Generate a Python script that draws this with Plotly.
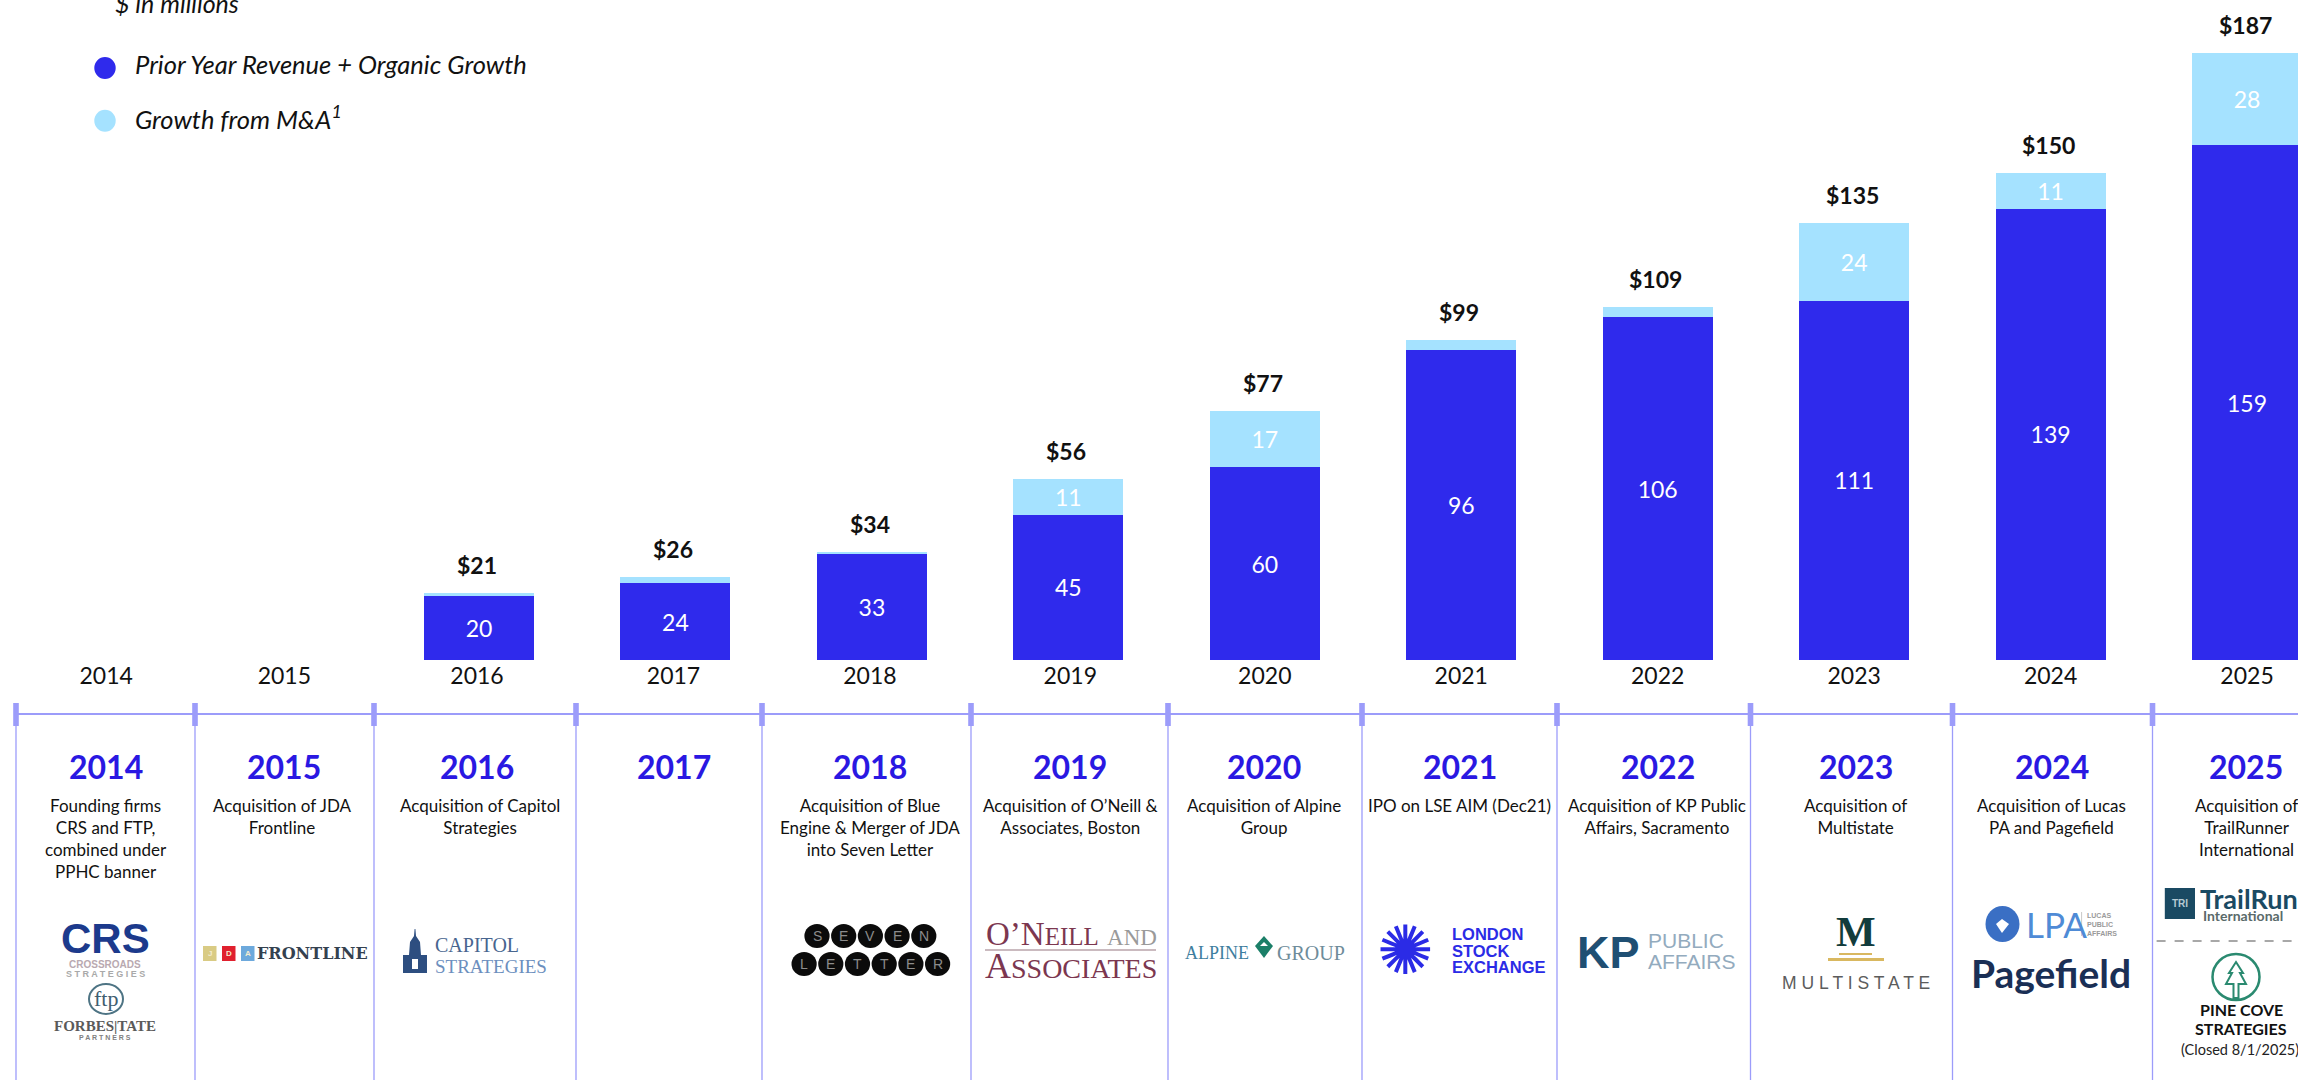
import plotly.graph_objects as go

W, H = 2298, 1080
BAR_YEARS = [2016, 2017, 2018, 2019, 2020, 2021, 2022, 2023, 2024, 2025]
BASE_VALUES = [19.7, 23.6, 32.6, 44.7, 59.4, 95.6, 105.6, 110.6, 139, 158.6]
MA_VALUES = [1, 2, 0.7, 11, 17.2, 3, 3.1, 24, 11, 28.4]
TOTALS = [21, 26, 34, 56, 77, 99, 109, 135, 150, 187]
BASE_LABELS = ["20", "24", "33", "45", "60", "96", "106", "111", "139", "159"]
MA_LABELS = ["", "", "", "11", "17", "", "", "24", "11", "28"]
TICK_YEARS = [2014, 2015] + BAR_YEARS
TICK_LABELS = [str(y) for y in TICK_YEARS]
TICK_NUDGE = {2014: 0.102, 2015: 0.009, 2016: -0.01, 2017: -0.01, 2018: -0.01, 2019: 0.01}
DESCRIPTIONS = [
    "Founding firms<br>CRS and FTP,<br>combined under<br>PPHC banner",
    "Acquisition of JDA<br>Frontline",
    "Acquisition of Capitol<br>Strategies",
    "",
    "Acquisition of Blue<br>Engine &amp; Merger of JDA<br>into Seven Letter",
    "Acquisition of O\u2019Neill &amp;<br>Associates, Boston",
    "Acquisition of Alpine<br>Group",
    "IPO on LSE AIM (Dec21)",
    "Acquisition of KP Public<br>Affairs, Sacramento",
    "Acquisition of<br>Multistate",
    "Acquisition of Lucas<br>PA and Pagefield",
    "Acquisition of<br>TrailRunner<br>International",
]
LEGEND_NAMES = ["Prior Year Revenue + Organic Growth", "Growth from M&amp;A<sup>1</sup>"]

BLUE, LIGHT, RULE, HEAD = "#2F2AEC", "#A5E2FF", "#9C9CFA", "#2A18E2"
SANS = "Lato"
SERIF = "Liberation Serif"
PX_PER_YEAR = 196.45
X0 = 2016 - 479 / PX_PER_YEAR
BASE_PX = 660
Y_MAX = BASE_PX / 3.246

def px(x):
    return x / W

def py(y):
    return 1 - y / H

annos, shapes = [], []

def txt(x, y, t, size=17, color="#111", font=SANS, anchor="center", bold=False, italic=False):
    annos.append(dict(
        xref="paper", yref="paper", x=px(x), y=py(y), text=t, showarrow=False,
        xanchor=anchor, yanchor="middle", align=anchor,
        font=dict(size=size, color=color, family=font,
                  weight="bold" if bold else "normal", style="italic" if italic else "normal"),
        borderpad=0, borderwidth=0))

def rect(x0, y0, x1, y1, fill):
    shapes.append(dict(type="rect", xref="paper", yref="paper", x0=px(x0), x1=px(x1),
                       y0=py(y0), y1=py(y1), fillcolor=fill, line=dict(width=0), layer="above"))

def ell(cx, cy, rx, ry, fill="rgba(0,0,0,0)", lw=0, lc="rgba(0,0,0,0)"):
    shapes.append(dict(type="circle", xref="paper", yref="paper", x0=px(cx - rx), x1=px(cx + rx),
                       y0=py(cy + ry), y1=py(cy - ry), fillcolor=fill,
                       line=dict(width=lw, color=lc), layer="above"))

def seg(x0, y0, x1, y1, color, lw=1.5, dash="solid"):
    shapes.append(dict(type="line", xref="paper", yref="paper", x0=px(x0), x1=px(x1),
                       y0=py(y0), y1=py(y1), line=dict(color=color, width=lw, dash=dash), layer="above"))

def poly(pts, fill, lw=0, lc="rgba(0,0,0,0)"):
    d = "M " + " L ".join(f"{px(a):.5f} {py(b):.5f}" for a, b in pts) + " Z"
    shapes.append(dict(type="path", xref="paper", yref="paper", path=d, fillcolor=fill,
                       line=dict(width=lw, color=lc), layer="above"))

fig = go.Figure()
fig.add_bar(x=BAR_YEARS, y=BASE_VALUES, width=0.56, marker=dict(color=BLUE, line=dict(width=0)),
            text=BASE_LABELS, textposition="inside", insidetextanchor="middle", textangle=0,
            insidetextfont=dict(color="white", size=23, family=SANS), name="Prior Year Revenue + Organic Growth",
            constraintext="none", showlegend=False, hoverinfo="skip")
fig.add_bar(x=BAR_YEARS, y=MA_VALUES, width=0.56, marker=dict(color=LIGHT, line=dict(width=0)),
            text=MA_LABELS, textposition="inside", insidetextanchor="middle", textangle=0,
            insidetextfont=dict(color="white", size=23, family=SANS), name="Growth from M&A",
            constraintext="none", showlegend=False, hoverinfo="skip")

# Totals above the bars
for yr, base, ma, tot in zip(BAR_YEARS, BASE_VALUES, MA_VALUES, TOTALS):
    annos.append(dict(xref="x", yref="y", x=yr, y=base + ma, text=f"${tot}", showarrow=False,
                      yanchor="middle", yshift=28, xshift=-2,
                      font=dict(size=23, family=SANS, color="#111", weight="bold")))

# Legend and unit note
txt(115, 3, "$ in millions", size=25, italic=True, anchor="left")
ell(105, 68, 10.7, 11, fill=BLUE)
ell(105, 120.7, 10.7, 11, fill=LIGHT)
txt(135, 64, LEGEND_NAMES[0], size=25.5, italic=True, anchor="left")
txt(135, 117, LEGEND_NAMES[1], size=25.5, italic=True, anchor="left")

# Timeline rules
RULE_X = [16, 195, 374, 576, 762, 971, 1168, 1362, 1557, 1750.5, 1952.5, 2152.5]
seg(16, 714, W, 714, RULE, 1.8)
for x in RULE_X:
    seg(x, 726, x, H, RULE, 1.3)
    rect(x - 2.8, 703, x + 2.8, 726, RULE)

# Timeline headings and descriptions
HEAD_X = [105.6, 284, 476.5, 673.5, 870.4, 1070, 1264, 1460, 1657.6, 1855.6, 2051.5, 2246]
DESC_X = [105.6, 282, 479.6, 673.5, 870.4, 1070, 1264, 1459, 1657, 1855.6, 2051, 2246]
for yr, hx, dx, d in zip(TICK_LABELS, HEAD_X, DESC_X, DESCRIPTIONS):
    txt(hx, 766, yr, size=32, color=HEAD, bold=True)
    if d:
        annos.append(dict(xref="paper", yref="paper", x=px(dx), y=py(794), text=d, showarrow=False,
                          xanchor="center", yanchor="top", align="center", borderpad=0,
                          font=dict(size=17, color="#111", family=SANS)))

# --- Logos (drawn as text and simple shapes) ---
# CRS / Forbes Tate
txt(105, 938, "CRS", 42, "#1C3A8C", "Liberation Sans", bold=True)
txt(105, 964, "CROSSROADS", 10, "#B9A9B0", "Liberation Sans", bold=True)
txt(105, 974, "S T R A T E G I E S", 9, "#A9A9A9", "Liberation Sans", bold=True)
ell(106, 999, 17, 15, lw=2, lc="#4E7484")
txt(106, 998, "ftp", 22, "#3F5E70", SERIF)
txt(105, 1026, "FORBES|TATE", 15, "#5A5A5A", SERIF, bold=True)
txt(105, 1037, "P A R T N E R S", 7, "#808080", "Liberation Sans", bold=True)

# JDA Frontline
for x0, c, ch in [(203, "#D9CB84", "J"), (222, "#E0202E", "D"), (241, "#6DA9DC", "A")]:
    rect(x0, 946, x0 + 13.5, 961, c)
    txt(x0 + 6.7, 953.5, ch, 8, "#F3EBD0", "Liberation Sans", bold=True)
txt(312, 953, "FRONTLINE", 16, "#34414F", "DejaVu Serif", bold=True)

# Capitol Strategies
poly([(403, 973), (403, 955), (409, 955), (410, 942), (414, 936), (414.6, 929), (415.4, 929), (416, 936),
      (420, 942), (421, 955), (427, 955), (427, 973)], "#2D4E80")
rect(412, 959, 418, 969, "#FFFFFF")
txt(435, 945, "CAPITOL", 20, "#48658F", SERIF, anchor="left")
txt(435, 966, "STRATEGIES", 19, "#6C8FBE", SERIF, anchor="left")

# Seven Letter
for row, x0, cy in [("SEVEN", 817.0, 936), ("LETTER", 804.1, 964)]:
    for i, ch in enumerate(row):
        cx = x0 + i * 26.7
        ell(cx, cy, 12.6, 12, fill="#0B0B0B")
        txt(cx, cy, ch, 14, "#8C8C8C", "Liberation Sans")

# O'Neill and Associates
txt(1071, 934, "O\u2019N<span style=\"font-size:25px\">EILL</span> <span style=\"font-size:23px;color:#9A9A9A\">AND</span>",
    33, "#7C3750", SERIF)
seg(985, 950, 1156, 950, "#B9A3AA", 1.5)
txt(1071, 966, "A<span style=\"font-size:28px\">SSOCIATES</span>", 36, "#7C3750", SERIF)

# Alpine Group
txt(1185, 953, "ALPINE", 18, "#3E7E9E", SERIF, anchor="left")
poly([(1264, 936), (1273, 946), (1264, 958), (1255, 946)], "#1B7F68")
poly([(1264, 942), (1268, 946), (1260, 946)], "#FFFFFF")
txt(1277, 953, "GROUP", 20, "#6E8C9A", SERIF, anchor="left")

# London Stock Exchange
txt(1405.6, 950, "\u273A", 68, "#2B2BE6", "DejaVu Sans")
txt(1451.5, 934, "LONDON", 16.5, "#2B2BE6", "Liberation Sans", anchor="left", bold=True)
txt(1451.5, 950.7, "STOCK", 16.5, "#2B2BE6", "Liberation Sans", anchor="left", bold=True)
txt(1451.5, 967, "EXCHANGE", 16.5, "#2B2BE6", "Liberation Sans", anchor="left", bold=True)

# KP Public Affairs
txt(1576.5, 952, "KP", 45, "#1F4F73", "Liberation Sans", anchor="left", bold=True)
txt(1648, 940, "PUBLIC", 21, "#93ABBE", "Liberation Sans", anchor="left")
txt(1648, 961, "AFFAIRS", 21, "#93ABBE", "Liberation Sans", anchor="left")

# Multistate
txt(1855.6, 932, "M", 42, "#123C3C", SERIF, bold=True)
rect(1839, 953, 1872, 955, "#D9B860")
rect(1828, 958, 1884, 961, "#D9B860")
txt(1856, 983, "M U L T I S T A T E", 17.5, "#5C5C5C", "Liberation Sans")

# LPA / Pagefield
ell(2002.5, 924, 17, 18, fill="#3A6FC4")
poly([(2002, 919), (2009, 924), (2002, 933), (1996, 924)], "#FFFFFF")
txt(2025.5, 924, "LPA", 35, "#4F8BD6", "Lato", anchor="left")
seg(2081.6, 912, 2081.6, 936, "#C8C8C8", 1)
for yy, t in [(915, "LUCAS"), (924, "PUBLIC"), (933, "AFFAIRS")]:
    txt(2086.7, yy, t, 7, "#9A9A9A", "Liberation Sans", anchor="left", bold=True)
txt(2051, 973, "Pagefield", 39, "#1A2F55", "Lato", bold=True)

# TrailRunner
rect(2164.8, 888, 2195, 919, "#1A4A63")
txt(2180, 903.5, "TRI", 10, "#B7CAD4", "Liberation Sans", bold=True)
txt(2200, 898, "TrailRunner", 27, "#1A4A63", "Lato", anchor="left", bold=True)
txt(2203, 915, "International", 14, "#5A6A6A", "Lato", anchor="left", bold=True)
seg(2156.6, 941, W, 941, "#8C8C8C", 1.5, "dash")

# Pine Cove
ell(2236, 977, 23.5, 23, lw=2.5, lc="#2A8A70")
poly([(2236, 962), (2243, 973), (2240, 973), (2246, 984), (2238.5, 984), (2238.5, 998), (2233.5, 998),
      (2233.5, 984), (2226, 984), (2232, 973), (2229, 973)], "#FFFFFF", lw=2, lc="#2A8A70")
txt(2241, 1009, "PINE COVE", 16, "#111", SANS, bold=True)
txt(2241, 1028, "STRATEGIES", 16, "#111", SANS, bold=True)
txt(2240, 1049.3, "(Closed 8/1/2025)", 14.5, "#222", SANS)

tick_positions = [y + TICK_NUDGE.get(y, 0) for y in TICK_YEARS]
fig.update_layout(
    width=W, height=H, barmode="stack", plot_bgcolor="white", paper_bgcolor="white",
    margin=dict(l=0, r=0, t=0, b=0), showlegend=False, annotations=annos, shapes=shapes,
    font=dict(family=SANS, color="#111"),
    xaxis=dict(range=[X0, X0 + W / PX_PER_YEAR], domain=[0, 1], tickmode="array", tickvals=tick_positions,
               ticktext=TICK_LABELS, tickfont=dict(size=23, family=SANS, color="#111"), showgrid=False,
               zeroline=False, showline=False, ticks="", ticklen=0),
    yaxis=dict(range=[0, Y_MAX], domain=[1 - BASE_PX / H, 1], visible=False, showgrid=False, zeroline=False),
)
fig.write_html("out.html", config=dict(displayModeBar=False),
               post_script="document.body.style.margin='0';document.documentElement.style.overflow='hidden';")
